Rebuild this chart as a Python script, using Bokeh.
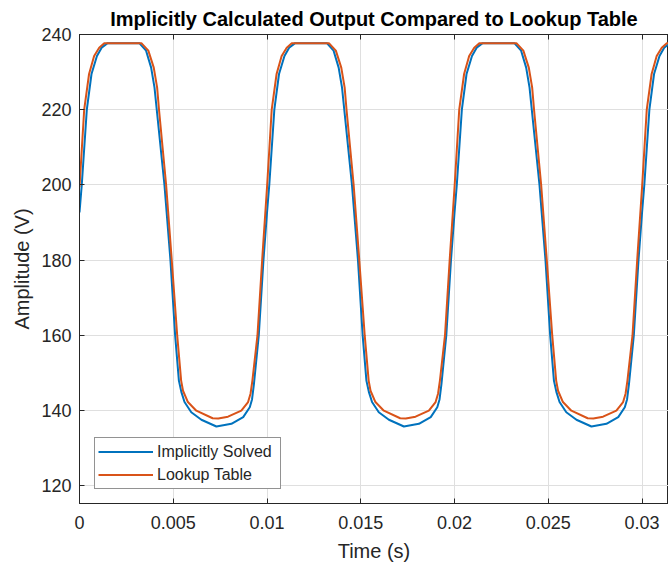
from bokeh.plotting import figure
from bokeh.models import (Range1d, FixedTicker, CustomJSTickFormatter, LinearAxis,
                          Legend, LegendItem)
from bokeh.embed import file_html
from bokeh.resources import INLINE

# ---- data ----
title_text = "Implicitly Calculated Output Compared to Lookup Table"
x_label = "Time (s)"
y_label = "Amplitude (V)"
series_names = ["Implicitly Solved", "Lookup Table"]
x_ticks = [0, 0.005, 0.01, 0.015, 0.02, 0.025, 0.03]
y_ticks = [120, 140, 160, 180, 200, 220, 240]

implicit_t = [
    0.0, 0.00012, 0.00039, 0.00064, 0.00093, 0.00118, 0.0015, 0.00319, 0.00355, 0.00382,
    0.004, 0.00412, 0.00453, 0.00485, 0.0051, 0.0053, 0.00543, 0.0056, 0.00596, 0.0065,
    0.0073, 0.0081, 0.00873, 0.00908, 0.0092, 0.0093, 0.00956, 0.00981,
    0.01, 0.01012, 0.01039, 0.01064, 0.01093, 0.01118, 0.0115, 0.01319, 0.01355, 0.01382,
    0.014, 0.01412, 0.01453, 0.01485, 0.0151, 0.0153, 0.01543, 0.0156, 0.01596, 0.0165,
    0.0173, 0.0181, 0.01873, 0.01908, 0.0192, 0.0193, 0.01956, 0.01981,
    0.02, 0.02012, 0.02039, 0.02064, 0.02093, 0.02118, 0.0215, 0.02319, 0.02355, 0.02382,
    0.024, 0.02412, 0.02453, 0.02485, 0.0251, 0.0253, 0.02543, 0.0256, 0.02596, 0.0265,
    0.0273, 0.0281, 0.02873, 0.02908, 0.0292, 0.0293, 0.02956, 0.02981,
    0.03, 0.03012, 0.03039, 0.03064, 0.03093, 0.03118, 0.0315, 0.0318,
]
implicit_v = [
    192.7, 200, 220, 229.5, 234.3, 236.5, 237.7, 237.7, 235.7, 231.2,
    225.9, 220, 200, 180, 160, 148, 145.0, 142.3, 139.6, 137.6,
    135.8, 136.5, 138.3, 140.9, 143, 147, 160, 180,
    192.7, 200, 220, 229.5, 234.3, 236.5, 237.7, 237.7, 235.7, 231.2,
    225.9, 220, 200, 180, 160, 148, 145.0, 142.3, 139.6, 137.6,
    135.8, 136.5, 138.3, 140.9, 143, 147, 160, 180,
    192.7, 200, 220, 229.5, 234.3, 236.5, 237.7, 237.7, 235.7, 231.2,
    225.9, 220, 200, 180, 160, 148, 145.0, 142.3, 139.6, 137.6,
    135.8, 136.5, 138.3, 140.9, 143, 147, 160, 180,
    192.7, 200, 220, 229.5, 234.3, 236.5, 237.7, 237.7,
]

lookup_t = [
    0.0, 0.00025, 0.00051, 0.00078, 0.00105, 0.00132, 0.0033, 0.00367, 0.00396, 0.00414,
    0.00424, 0.00462, 0.00492, 0.00521, 0.00542, 0.00552, 0.00578, 0.00623, 0.0071, 0.0074,
    0.00792, 0.00863, 0.00899, 0.00912, 0.00922, 0.00949, 0.00974,
    0.01, 0.01025, 0.01051, 0.01078, 0.01105, 0.01132, 0.0133, 0.01367, 0.01396, 0.01414,
    0.01424, 0.01462, 0.01492, 0.01521, 0.01542, 0.01552, 0.01578, 0.01623, 0.0171, 0.0174,
    0.01792, 0.01863, 0.01899, 0.01912, 0.01922, 0.01949, 0.01974,
    0.02, 0.02025, 0.02051, 0.02078, 0.02105, 0.02132, 0.0233, 0.02367, 0.02396, 0.02414,
    0.02424, 0.02462, 0.02492, 0.02521, 0.02542, 0.02552, 0.02578, 0.02623, 0.0271, 0.0274,
    0.02792, 0.02863, 0.02899, 0.02912, 0.02922, 0.02949, 0.02974,
    0.03, 0.03025, 0.03051, 0.03078, 0.03105, 0.03132, 0.0318,
]
lookup_v = [
    199.4, 220, 229.5, 234.3, 236.5, 237.7, 237.7, 235.7, 231.2, 225.9,
    220, 200, 180, 160, 148, 145.3, 142.3, 140.0, 138.0, 137.9,
    138.4, 140.0, 142.3, 144.5, 148, 160, 180,
    199.4, 220, 229.5, 234.3, 236.5, 237.7, 237.7, 235.7, 231.2, 225.9,
    220, 200, 180, 160, 148, 145.3, 142.3, 140.0, 138.0, 137.9,
    138.4, 140.0, 142.3, 144.5, 148, 160, 180,
    199.4, 220, 229.5, 234.3, 236.5, 237.7, 237.7, 235.7, 231.2, 225.9,
    220, 200, 180, 160, 148, 145.3, 142.3, 140.0, 138.0, 137.9,
    138.4, 140.0, 142.3, 144.5, 148, 160, 180,
    199.4, 220, 229.5, 234.3, 236.5, 237.7, 237.7,
]

# ---- styling ----
FONT = "Liberation Sans"
AX = "#262626"
GRID = "#dfdfdf"
BLUE = "#0072BD"
ORANGE = "#D95319"

p = figure(width=668, height=566, output_backend="svg", toolbar_location=None,
           x_range=Range1d(0, 0.03141), y_range=Range1d(115.33, 240),
           min_border_left=79, min_border_right=0, min_border_top=34,
           min_border_bottom=63)
p.background_fill_color = "white"
p.border_fill_color = "white"
p.outline_line_color = AX
p.outline_line_width = 1

p.title.text = title_text
p.title.align = "center"
p.title.vertical_align = "top"
p.title.text_font = FONT
p.title.text_font_size = "20px"
p.title.text_font_style = "bold"
p.title.text_color = "#000000"
p.title.standoff = 5

for ax in (p.xaxis[0], p.yaxis[0]):
    ax.axis_line_color = AX
    ax.major_tick_line_color = AX
    ax.major_tick_in = 5
    ax.major_tick_out = 0
    ax.minor_tick_line_color = None
    ax.major_label_text_font = FONT
    ax.major_label_text_font_size = "18px"
    ax.major_label_text_color = AX
    ax.axis_label_text_font = FONT
    ax.axis_label_text_font_size = "20px"
    ax.axis_label_text_font_style = "normal"
    ax.axis_label_text_color = AX

p.xaxis[0].ticker = FixedTicker(ticks=x_ticks)
p.yaxis[0].ticker = FixedTicker(ticks=y_ticks)
p.xaxis[0].formatter = CustomJSTickFormatter(code="return String(Number(tick.toPrecision(6)));")
p.xaxis[0].axis_label = x_label
p.yaxis[0].axis_label = y_label
p.xaxis[0].major_label_standoff = 12
p.yaxis[0].major_label_standoff = 8
p.xaxis[0].axis_label_standoff = 8
p.yaxis[0].axis_label_standoff = 5

top = LinearAxis(ticker=FixedTicker(ticks=x_ticks), axis_line_color=AX,
                 major_tick_line_color=AX, major_tick_in=5, major_tick_out=0,
                 minor_tick_line_color=None, major_label_text_font_size="0px",
                 major_label_standoff=0)
p.add_layout(top, "above")

p.xgrid.ticker = FixedTicker(ticks=x_ticks)
p.ygrid.ticker = FixedTicker(ticks=y_ticks)
p.grid.grid_line_color = GRID
p.grid.grid_line_width = 1

r1 = p.line(implicit_t, implicit_v, line_color=BLUE, line_width=2)
r2 = p.line(lookup_t, lookup_v, line_color=ORANGE, line_width=2)

legend = Legend(items=[LegendItem(label=series_names[0], renderers=[r1]),
                       LegendItem(label=series_names[1], renderers=[r2])],
                location=(15, 14))
legend.label_text_font = FONT
legend.label_text_font_size = "16px"
legend.label_text_color = AX
legend.border_line_color = AX
legend.border_line_width = 1
legend.background_fill_color = "white"
legend.background_fill_alpha = 1
legend.glyph_width = 55
legend.glyph_height = 21
legend.label_height = 21
legend.label_width = 120
legend.label_standoff = 4
legend.padding = 3
legend.spacing = 2
legend.margin = 0
p.add_layout(legend, "center")

open("out.html", "w").write(file_html(p, INLINE))
